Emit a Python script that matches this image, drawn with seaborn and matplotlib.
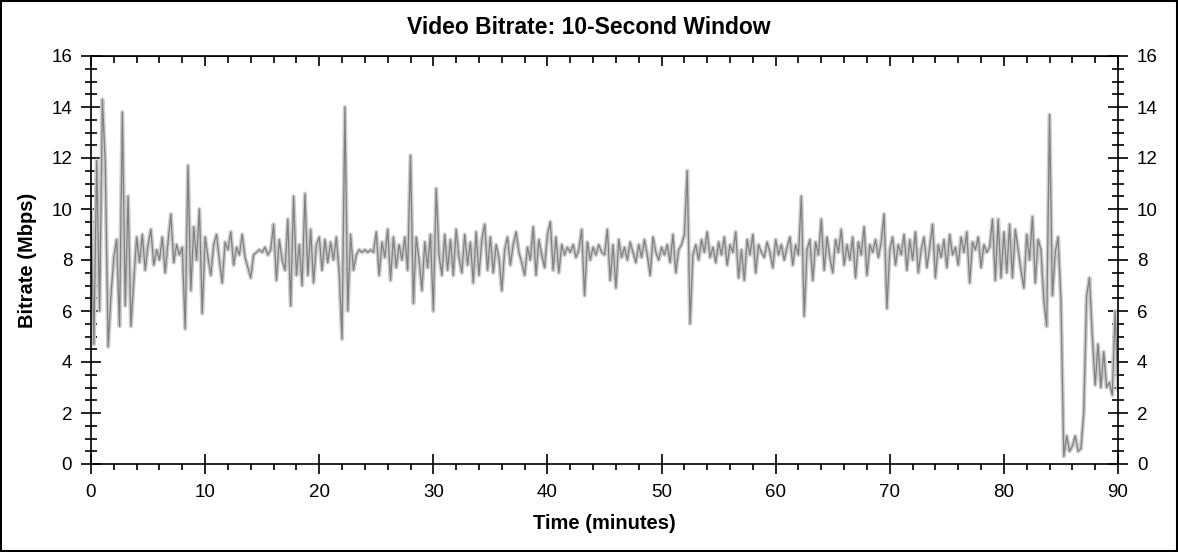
import numpy as np
import pandas as pd
import matplotlib
matplotlib.use("Agg")
import matplotlib.pyplot as plt
import seaborn as sns
from matplotlib.ticker import MultipleLocator
from matplotlib.patches import Rectangle

# --- 1. Data (one value every 15 s) ---
STEP_MIN = 0.25

BITRATE_MBPS = [
    10.0, 4.7, 11.9, 6.0,   14.3, 11.8, 4.6, 6.6,   8.1, 8.8, 5.4, 13.8,   6.2, 10.5, 5.4, 7.2,
    8.9, 7.9, 9.0, 7.6,     8.6, 9.2, 7.8, 8.4,     8.0, 8.9, 7.5, 8.7,    9.8, 7.9, 8.6, 8.2,
    8.5, 5.3, 11.7, 6.8,    9.3, 8.0, 10.0, 5.9,    8.9, 8.1, 7.4, 8.6,    9.0, 8.0, 7.1, 8.7,
    8.4, 9.1, 7.8, 8.5,     8.2, 9.0, 8.1, 7.7,     7.3, 8.2, 8.3, 8.4,    8.3, 8.5, 8.2, 8.4,
    9.4, 7.2, 8.8, 8.0,     7.6, 9.6, 6.2, 10.5,    7.4, 8.6, 7.0, 10.6,   7.4, 9.2, 7.1, 8.6,
    8.9, 7.6, 8.8, 7.9,     8.7, 8.0, 8.9, 7.5,     4.9, 14.0, 6.0, 9.0,   7.6, 8.2, 8.4, 8.3,
    8.4, 8.3, 8.4, 8.3,     9.1, 7.4, 8.7, 8.1,     9.2, 7.2, 8.9, 7.7,    8.6, 8.0, 8.9, 7.6,
    12.1, 6.3, 8.9, 8.0,    6.8, 8.7, 7.7, 9.0,     6.0, 10.8, 8.2, 7.4,   9.0, 7.6, 8.8, 7.4,
    9.2, 8.1, 7.5, 9.0,     7.8, 8.7, 7.1, 9.1,     7.4, 8.8, 9.4, 7.6,    8.9, 7.5, 8.6, 8.1,
    6.8, 8.4, 8.9, 7.8,     8.6, 9.1, 8.3, 7.9,     7.4, 8.5, 8.0, 9.3,    7.4, 8.8, 8.2, 7.7,
    9.0, 9.5, 7.6, 8.9,     7.5, 8.6, 8.2, 8.5,     8.3, 8.6, 8.1, 8.4,    9.2, 6.6, 8.7, 8.0,
    8.5, 8.2, 8.6, 8.3,     8.2, 9.2, 7.2, 8.6,     6.9, 8.8, 8.1, 8.5,    8.0, 8.7, 8.3, 7.9,
    8.6, 8.1, 8.8, 8.2,     7.4, 8.9, 8.3, 8.0,     8.5, 8.2, 8.6, 7.9,    9.0, 7.5, 8.4, 8.6,
    9.0, 11.5, 5.5, 8.2,    8.6, 8.0, 8.8, 8.3,     9.1, 8.1, 8.5, 7.9,    8.7, 8.2, 8.9, 7.8,
    8.6, 8.3, 9.1, 7.3,     8.4, 7.2, 8.8, 8.2,     9.0, 7.5, 8.6, 8.3,    8.1, 8.7, 8.3, 7.7,
    8.8, 8.2, 8.6, 8.0,     8.5, 8.9, 7.8, 8.6,     8.2, 10.5, 5.8, 8.4,   8.8, 7.2, 8.7, 8.2,
    9.6, 7.6, 8.9, 8.1,     7.5, 8.8, 8.3, 9.2,     7.8, 8.6, 8.0, 8.9,    7.3, 8.7, 8.2, 9.3,
    7.4, 8.6, 8.3, 8.8,     8.1, 8.7, 9.8, 6.1,     8.4, 8.9, 7.8, 8.6,    8.2, 9.0, 7.6, 8.8,
    8.0, 9.1, 7.5, 8.4,     8.9, 7.7, 8.5, 9.4,     7.3, 8.6, 8.1, 8.8,    7.7, 9.0, 8.2, 8.5,
    7.8, 8.9, 8.3, 9.1,     7.1, 8.7, 8.4, 8.9,     7.7, 8.6, 8.3, 8.5,    9.6, 7.2, 9.6, 7.3,
    9.1, 7.5, 9.4, 7.3,     9.2, 8.4, 7.6, 6.9,     9.0, 8.0, 9.7, 7.1,    8.8, 8.4, 6.4, 5.4,
    13.7, 6.6, 8.3, 8.9,    6.4, 0.3, 1.1, 0.5,     0.7, 1.1, 0.5, 0.6,    2.0, 6.6, 7.3, 5.0,
    3.1, 4.7, 3.0, 4.4,     3.0, 3.2, 2.7, 6.0,
    2.9,
]

X_TICKS = [0, 10, 20, 30, 40, 50, 60, 70, 80, 90]
Y_TICKS = [0, 2, 4, 6, 8, 10, 12, 14, 16]

TITLE = "Video Bitrate: 10-Second Window"
X_LABEL = "Time (minutes)"
Y_LABEL = "Bitrate (Mbps)"

LINE_COLOR = "#808080"
HALO_COLOR = "#cccccc"

# --- 2. Frame ---
df = pd.DataFrame({
    "minutes": np.arange(len(BITRATE_MBPS)) * STEP_MIN,
    "mbps": BITRATE_MBPS,
})

sns.set_style("ticks")
plt.rcParams["font.family"] = ["Liberation Sans", "DejaVu Sans"]
plt.rcParams["text.color"] = "black"
plt.rcParams["axes.labelcolor"] = "black"

fig = plt.figure(figsize=(11.78, 5.52), dpi=100)
ax = fig.add_axes([91 / 1178, 1 - 464 / 552, 1027 / 1178, 408 / 552])

# light band under the line, then the line itself
sns.lineplot(data=df, x="minutes", y="mbps", ax=ax, color=HALO_COLOR,
             linewidth=3.0, estimator=None)
sns.lineplot(data=df, x="minutes", y="mbps", ax=ax, color=LINE_COLOR,
             linewidth=0.9, estimator=None)

ax.set_xlim(X_TICKS[0], X_TICKS[-1])
ax.set_ylim(Y_TICKS[0], Y_TICKS[-1])
ax.set_xticks(X_TICKS)
ax.set_yticks(Y_TICKS)
ax.xaxis.set_minor_locator(MultipleLocator(2))
ax.yaxis.set_minor_locator(MultipleLocator(0.5))

for side in ["top", "right", "bottom", "left"]:
    ax.spines[side].set_visible(True)
    ax.spines[side].set_linewidth(1.2)
    ax.spines[side].set_color("black")

# y: ticks cross the frame on both sides, labels on both sides
ax.tick_params(axis="y", which="major", direction="inout", length=15, width=1.2,
               left=True, right=True, labelleft=True, labelright=True,
               labelsize=13.5, pad=6, colors="black")
ax.tick_params(axis="y", which="minor", direction="inout", length=8, width=1.2,
               left=True, right=True, colors="black")
# x: bottom major cross the frame, minor point outward
ax.tick_params(axis="x", which="major", direction="inout", length=15, width=1.2,
               bottom=True, top=False, labelsize=13.5, pad=7, colors="black")
ax.tick_params(axis="x", which="minor", direction="out", length=4, width=1.2,
               bottom=True, top=False, colors="black")

# top: ticks only, pointing inward
top = ax.secondary_xaxis("top")
top.set_xticks(X_TICKS)
top.xaxis.set_minor_locator(MultipleLocator(2))
top.tick_params(which="major", direction="in", length=7, width=1.2, labeltop=False,
                colors="black")
top.tick_params(which="minor", direction="in", length=5, width=1.2, colors="black")

# title is centred on the whole picture, not on the plot box
fig.suptitle(TITLE, x=0.5, y=1 - 27 / 552, va="center", fontsize=16.5,
             fontweight="bold", color="black")
ax.set_xlabel(X_LABEL, fontsize=14.5, fontweight="bold", labelpad=9)
ax.set_ylabel(Y_LABEL, fontsize=14.5, fontweight="bold", labelpad=10)

# thin frame round the whole picture
fig.patches.append(Rectangle((0.001, 0.002), 0.998, 0.996, transform=fig.transFigure,
                             fill=False, edgecolor="black", linewidth=1.5))

fig.savefig("out.png", dpi=100, facecolor="white")
